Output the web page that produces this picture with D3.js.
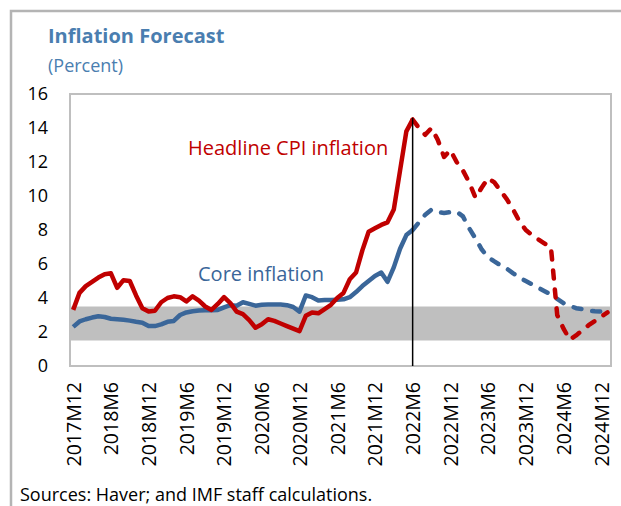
<!DOCTYPE html>
<html>
<head>
<meta charset="utf-8">
<script src="https://cdn.jsdelivr.net/npm/d3@7"></script>
<style>
  body { margin: 0; background: #fff; }
  svg { display: block; font-family: "Open Sans", "Noto Sans", sans-serif; }
  .tick text { fill: #000; }
</style>
</head>
<body>
<div id="chart"></div>
<script>
// month labels 2017M12 .. 2025M1
var months = [];
(function() {
  var yr = 2017, mo = 12;
  while (months.length < 86) {
    months.push(yr + 'M' + mo);
    mo++;
    if (mo > 12) { mo = 1; yr++; }
  }
})();

var headline = [
  3.3, 4.3, 4.7, 4.95, 5.2, 5.4, 5.45, 4.6, 5.05, 5.0,
  4.15, 3.4, 3.2, 3.25, 3.75, 4.0, 4.1, 4.05, 3.8, 4.1,
  3.85, 3.5, 3.3, 3.65, 4.05, 3.7, 3.2, 3.05, 2.7, 2.25,
  2.45, 2.75, 2.65, 2.5, 2.35, 2.2, 2.05, 2.95, 3.15, 3.1,
  3.35, 3.6, 4.0, 4.3, 5.1, 5.5, 6.8, 7.9, 8.1, 8.3,
  8.45, 9.2, 11.5, 13.8, 14.5, 14.0, 13.6, 14.0, 13.3, 12.3,
  12.7, 12.0, 11.5, 10.8, 9.9, 10.5, 11.05, 10.8, 10.3, 9.8,
  9.2, 8.5, 8.0, 7.7, 7.45, 7.2, 7.0, 3.0, 2.2, 1.55,
  1.8, 2.1, 2.4, 2.65, 2.9, 3.15
];

var core = [
  2.3, 2.62, 2.75, 2.85, 2.93, 2.88, 2.78, 2.75, 2.72, 2.67,
  2.6, 2.55, 2.35, 2.35, 2.45, 2.6, 2.65, 3.0, 3.15, 3.22,
  3.27, 3.28, 3.28, 3.3, 3.45, 3.58, 3.55, 3.75, 3.65, 3.55,
  3.6, 3.62, 3.62, 3.62, 3.58, 3.47, 3.2, 4.15, 4.05, 3.85,
  3.88, 3.88, 3.9, 3.92, 4.05, 4.35, 4.7, 5.0, 5.3, 5.5,
  4.95, 5.8, 6.9, 7.7, 8.0, 8.45, 8.9, 9.2, 9.05, 9.0,
  9.05, 9.08, 8.8, 8.1, 7.5, 6.85, 6.4, 6.15, 5.92, 5.72,
  5.45, 5.2, 5.0, 4.8, 4.6, 4.4, 4.2, 3.95, 3.7, 3.55,
  3.4, 3.35, 3.25, 3.22, 3.2, 3.18
];

var lastActual = '2022M6';
var targetBand = [1.5, 3.5];
var markerTop = 14.6;
var yTicks = [0, 2, 4, 6, 8, 10, 12, 14, 16];
var xTicks = ['2017M12', '2018M6', '2018M12', '2019M6', '2019M12', '2020M6', '2020M12',
  '2021M6', '2021M12', '2022M6', '2022M12', '2023M6', '2023M12', '2024M6', '2024M12'];

var width = 621;
var height = 506;
var plot = { left: 70, top: 94, right: 611, bottom: 366 };

var svg = d3.select('#chart').append('svg')
  .attr('width', width)
  .attr('height', height);

// outer frame
svg.append('rect')
  .attr('x', 11).attr('y', 11)
  .attr('width', 700).attr('height', 600)
  .attr('fill', 'none')
  .attr('stroke', '#b4b4b4')
  .attr('stroke-width', 2.5);

svg.append('text')
  .attr('x', 48).attr('y', 43)
  .attr('fill', '#4a7eb0')
  .attr('font-size', 20)
  .attr('font-weight', 'bold')
  .text('Inflation Forecast');

svg.append('text')
  .attr('x', 48).attr('y', 72)
  .attr('fill', '#4a7eb0')
  .attr('font-size', 18)
  .text('(Percent)');

var xScale = d3.scalePoint().domain(months).range([73.2, 607.5]);
var yScale = d3.scaleLinear().domain([0, 16]).range([plot.bottom, plot.top]);

// shaded band
svg.append('rect')
  .attr('x', plot.left)
  .attr('y', yScale(targetBand[1]))
  .attr('width', plot.right - plot.left)
  .attr('height', yScale(targetBand[0]) - yScale(targetBand[1]))
  .attr('fill', '#bfbfbf');

// plot border
svg.append('rect')
  .attr('x', plot.left).attr('y', plot.top)
  .attr('width', plot.right - plot.left)
  .attr('height', plot.bottom - plot.top)
  .attr('fill', 'none')
  .attr('stroke', '#bfbfbf')
  .attr('stroke-width', 2);

var yAxis = d3.axisLeft(yScale).tickValues(yTicks).tickSize(0).tickPadding(22);
svg.append('g')
  .attr('transform', 'translate(' + plot.left + ',0)')
  .call(yAxis)
  .call(function(g) { g.select('.domain').remove(); })
  .selectAll('text')
  .attr('font-size', 18)
  .attr('font-family', '"Open Sans", sans-serif');

var xAxis = d3.axisBottom(xScale).tickValues(xTicks).tickSize(0);
svg.append('g')
  .attr('transform', 'translate(0,' + plot.bottom + ')')
  .call(xAxis)
  .call(function(g) { g.select('.domain').remove(); })
  .selectAll('text')
  .attr('font-size', 19.5)
  .attr('font-family', '"Open Sans", sans-serif')
  .attr('transform', 'rotate(-90)')
  .attr('text-anchor', 'end')
  .attr('x', -16)
  .attr('y', 0)
  .attr('dy', '0.35em');

var split = months.indexOf(lastActual);

function series(values) {
  return values.map(function(v, i) { return { m: months[i], v: v, i: i }; });
}

var line = d3.line()
  .x(function(d) { return xScale(d.m); })
  .y(function(d) { return yScale(d.v); });

function drawSeries(values, color) {
  var pts = series(values);
  svg.append('path')
    .datum(pts.filter(function(d) { return d.i <= split; }))
    .attr('d', line)
    .attr('fill', 'none')
    .attr('stroke', color)
    .attr('stroke-width', 4.5)
    .attr('stroke-linejoin', 'round');
  svg.append('path')
    .datum(pts.filter(function(d) { return d.i >= split; }))
    .attr('d', line)
    .attr('fill', 'none')
    .attr('stroke', color)
    .attr('stroke-width', 4.5)
    .attr('stroke-linejoin', 'round')
    .attr('stroke-linecap', 'round')
    .attr('stroke-dasharray', '8,11');
}

drawSeries(core, '#3a6699');
drawSeries(headline, '#c00000');

// marker line at last actual month
svg.append('line')
  .attr('x1', xScale(lastActual)).attr('x2', xScale(lastActual))
  .attr('y1', yScale(markerTop)).attr('y2', yScale(0))
  .attr('stroke', '#000')
  .attr('stroke-width', 1.5);

svg.append('text')
  .attr('x', 188).attr('y', 155)
  .attr('fill', '#c00000')
  .attr('font-size', 20)
  .text('Headline CPI inflation');

svg.append('text')
  .attr('x', 198).attr('y', 281)
  .attr('fill', '#3a6699')
  .attr('font-size', 20)
  .text('Core inflation');

svg.append('text')
  .attr('x', 20).attr('y', 501)
  .attr('fill', '#000')
  .attr('font-size', 18)
  .text('Sources: Haver; and IMF staff calculations.');
</script>
</body>
</html>
